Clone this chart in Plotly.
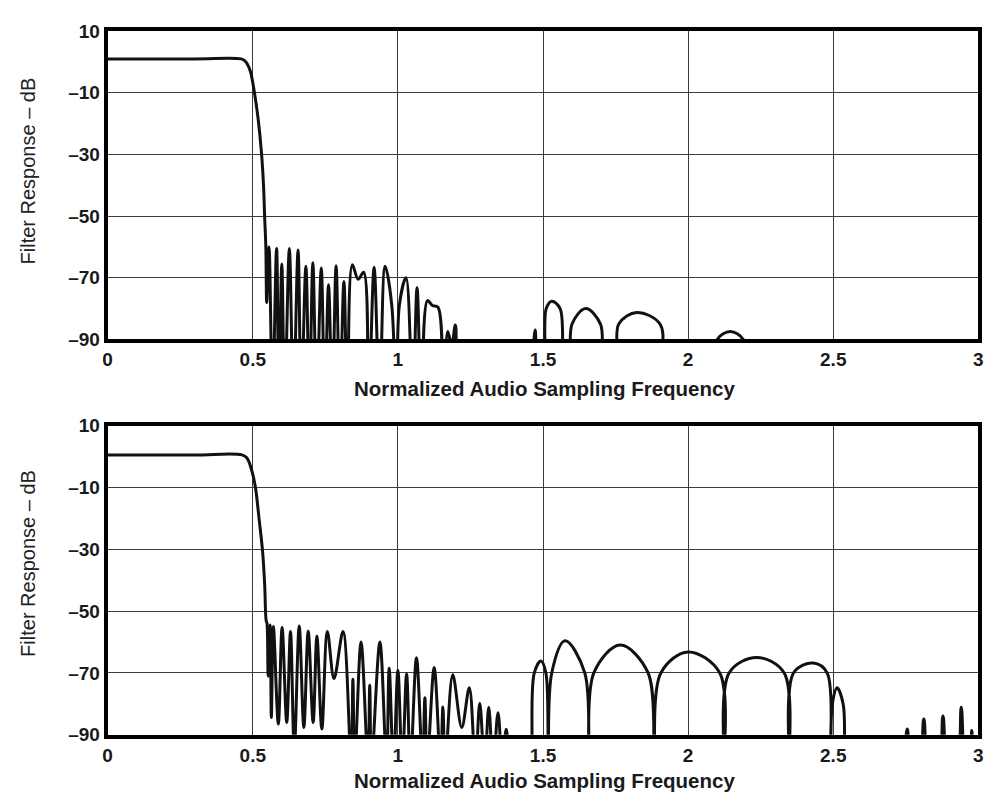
import plotly.graph_objects as go

# ---------------- data ----------------
FREQ_TICKS = [0, 0.5, 1, 1.5, 2, 2.5, 3]
FREQ_TICK_TEXT = ["0", "0.5", "1", "1.5", "2", "2.5", "3"]
DB_TICKS = [10, -10, -30, -50, -70, -90]
DB_TICK_TEXT = ["10", "–10", "–30", "–50", "–70", "–90"]

Y_TITLE = "Filter Response – dB"
X_TITLE = "Normalized Audio Sampling Frequency"

# upper panel (values below -90 dB are nulls outside the visible range)
TOP_FREQ = [
    0.000, 0.300, 0.460, 0.471, 0.482, 0.492, 0.505, 0.519, 0.530, 0.537, 0.541, 0.545,
    0.548, 0.556, 0.568, 0.582, 0.590, 0.600, 0.610, 0.626, 0.640, 0.656, 0.667, 0.683,
    0.695, 0.707, 0.720, 0.736, 0.748, 0.761, 0.774, 0.787, 0.800, 0.814, 0.826, 0.843,
    0.863, 0.882, 0.899, 0.918, 0.937, 0.956, 0.979, 0.996, 1.005, 1.028, 1.051, 1.066,
    1.081, 1.102, 1.119, 1.138, 1.156, 1.172, 1.185, 1.198, 1.212, 1.300, 1.440, 1.463,
    1.473, 1.485, 1.500, 1.511, 1.530, 1.559, 1.575, 1.590, 1.600, 1.647, 1.698, 1.712,
    1.750, 1.761, 1.823, 1.903, 1.914, 2.000, 2.090, 2.100, 2.145, 2.190, 2.200, 2.500,
    3.000,
]
TOP_DB = [
    1.0, 1.0, 1.0, 0.5, -0.8, -3.1, -9.5, -18.9, -29.5, -40.0, -50.5, -60.0,
    -78.0, -60.0, -110, -60.5, -110, -65.5, -110, -60.5, -110, -61.0, -110, -66.3,
    -110, -65.1, -110, -66.8, -110, -72.3, -110, -66.1, -110, -71.2, -110, -65.8,
    -70.5, -68.2, -110, -66.6, -110, -66.3, -79.0, -120, -79.0, -70.0, -110, -73.2,
    -110, -77.4, -79.0, -79.5, -110, -87.4, -92.0, -85.3, -110, -130, -130, -100,
    -86.9, -100, -100, -80.0, -77.6, -80.0, -100, -100, -85.0, -80.0, -85.0, -100,
    -100, -85.0, -81.3, -85.0, -100, -130, -100, -90.0, -87.4, -90.0, -100, -130,
    -130,
]

# lower panel
BOTTOM_FREQ = [
    0.000, 0.300, 0.463, 0.480, 0.497, 0.509, 0.522, 0.534, 0.541, 0.546,
    0.549, 0.553, 0.560, 0.564, 0.571, 0.588, 0.601, 0.617, 0.630, 0.643,
    0.660, 0.676, 0.691, 0.708, 0.721, 0.738, 0.757, 0.780, 0.811, 0.839,
    0.845, 0.851, 0.873, 0.897, 0.903, 0.909, 0.938, 0.961, 0.970, 0.985,
    1.000, 1.015, 1.030, 1.043, 1.064, 1.085, 1.093, 1.101, 1.125, 1.147,
    1.155, 1.163, 1.189, 1.220, 1.246, 1.267, 1.282, 1.299, 1.313, 1.328,
    1.345, 1.360, 1.373, 1.385, 1.420, 1.459, 1.470, 1.493, 1.510, 1.518,
    1.530, 1.576, 1.644, 1.658, 1.675, 1.766, 1.862, 1.883, 1.906, 2.000,
    2.109, 2.124, 2.141, 2.236, 2.331, 2.348, 2.363, 2.431, 2.479, 2.489,
    2.497, 2.513, 2.534, 2.543, 2.600, 2.700, 2.744, 2.755, 2.773, 2.795,
    2.812, 2.832, 2.861, 2.878, 2.898, 2.924, 2.941, 2.958, 2.970, 2.977,
    2.989, 3.000,
]
BOTTOM_DB = [
    0.5, 0.5, 0.5, -0.5, -4.7, -9.9, -20.4, -30.9, -41.4, -53.0,
    -54.0, -71.0, -54.5, -84.4, -55.0, -86.5, -55.3, -86.0, -56.6, -95.0,
    -54.8, -87.6, -56.5, -86.0, -58.1, -88.1, -56.6, -71.8, -56.6, -100,
    -72.0, -100, -60.0, -100, -74.0, -100, -60.0, -100, -68.5, -100,
    -69.2, -100, -70.3, -100, -65.1, -100, -78.0, -100, -68.2, -100,
    -81.0, -100, -70.6, -87.6, -74.8, -100, -79.8, -100, -81.1, -100,
    -82.9, -100, -88.2, -100, -130, -100, -70.0, -66.1, -70.0, -100,
    -70.0, -59.6, -70.0, -100, -70.0, -61.0, -70.0, -100, -70.0, -63.2,
    -70.0, -100, -70.0, -65.0, -70.0, -100, -70.0, -66.8, -70.0, -100,
    -80.0, -74.8, -80.0, -100, -130, -130, -100, -88.1, -100, -100,
    -84.9, -100, -100, -83.9, -100, -100, -81.1, -100, -100, -88.6,
    -100, -100,
]

# ---------------- figure ----------------
W, H = 991, 802
FONT = "Liberation Sans, Arial, Helvetica, sans-serif"


def px_x(x):
    return x / W


def px_y(y):
    return 1 - y / H


fig = go.Figure()
line_style = dict(color="#111111", width=3, shape="spline", smoothing=1.0, simplify=False)
fig.add_trace(go.Scatter(x=TOP_FREQ, y=TOP_DB, mode="lines", line=line_style,
                         xaxis="x", yaxis="y", hoverinfo="skip"))
fig.add_trace(go.Scatter(x=BOTTOM_FREQ, y=BOTTOM_DB, mode="lines", line=line_style,
                         xaxis="x2", yaxis="y2", hoverinfo="skip"))

axis_common = dict(
    showline=True, linecolor="black", linewidth=4, mirror=True,
    showgrid=True, gridcolor="#3c3c3c", gridwidth=1.3, zeroline=False, ticks="",
    tickfont=dict(family=FONT, size=19, color="#1a1a1a", weight="bold"),
)
x_dom = [px_x(103.7), px_x(983.3)]
top_dom = [px_y(338.3), px_y(21.7)]
bot_dom = [px_y(744.3), px_y(426.7)]

fig.update_layout(
    width=W, height=H, margin=dict(l=0, r=0, t=0, b=0),
    paper_bgcolor="white", plot_bgcolor="white", showlegend=False,
    xaxis=dict(domain=x_dom, range=[0, 3], tickvals=FREQ_TICKS, ticktext=FREQ_TICK_TEXT,
               anchor="y", **axis_common),
    yaxis=dict(domain=top_dom, range=[-90, 10], tickvals=DB_TICKS, ticktext=DB_TICK_TEXT,
               anchor="x", **axis_common),
    xaxis2=dict(domain=x_dom, range=[0, 3], tickvals=FREQ_TICKS, ticktext=FREQ_TICK_TEXT,
                anchor="y2", **axis_common),
    yaxis2=dict(domain=bot_dom, range=[-90, 10], tickvals=DB_TICKS, ticktext=DB_TICK_TEXT,
                anchor="x2", **axis_common),
)

ytitle_font = dict(family=FONT, size=20, color="#222222")
xtitle_font = dict(family=FONT, size=20.5, color="#1a1a1a", weight="bold")
for yc in (165, 568):
    fig.add_annotation(text=Y_TITLE, textangle=-90, x=px_x(23), y=px_y(yc),
                       xref="paper", yref="paper", xanchor="center", yanchor="middle",
                       showarrow=False, font=ytitle_font)
for yc in (389, 791):
    fig.add_annotation(text=X_TITLE, x=px_x(545), y=px_y(yc),
                       xref="paper", yref="paper", xanchor="center", yanchor="middle",
                       showarrow=False, font=xtitle_font)

fig.write_html("out.html")
